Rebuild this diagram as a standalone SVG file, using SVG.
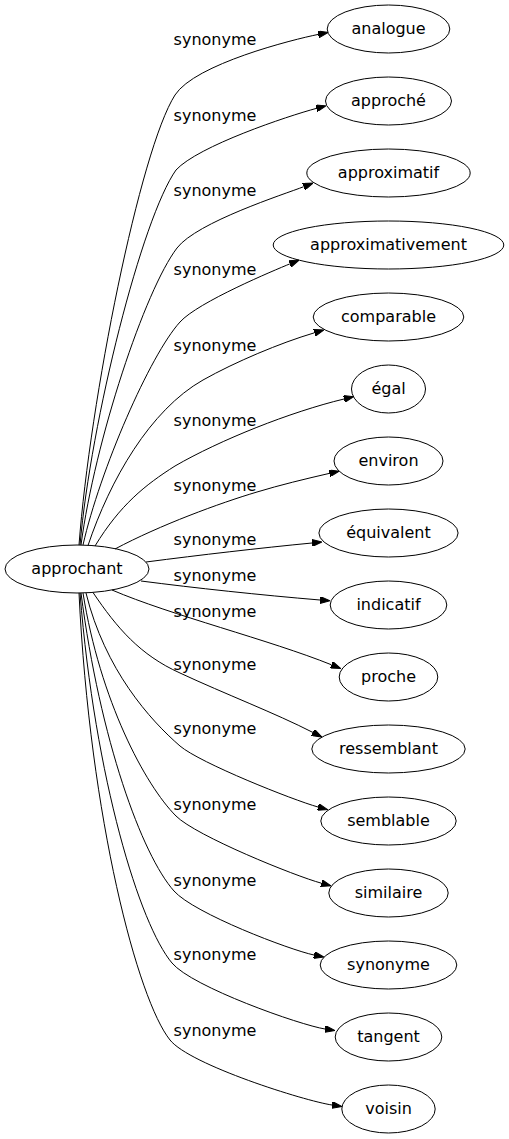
<svg xmlns="http://www.w3.org/2000/svg" width="509" height="1139" viewBox="0 0 509 1139">
<style>
.n ellipse{fill:none;stroke:#000;stroke-width:1}
text{font-family:"DejaVu Sans","Liberation Sans",sans-serif;font-size:16px;fill:#000;text-anchor:middle}
.e path{fill:none;stroke:#000;stroke-width:1;marker-end:url(#ah)}
</style>
<defs>
<marker id="ah" markerUnits="userSpaceOnUse" markerWidth="10" markerHeight="7" refX="0" refY="3.5" orient="auto">
<path d="M0,0 L10,3.5 L0,7 z" fill="#000" stroke="#000" stroke-width="1"/>
</marker>
</defs>
<rect width="509" height="1139" fill="#fff"/>
<g id="edges" class="e">
<path d="M79,545 C90,400 140,150 175,95 C195,64 293,39.5 318.3,34.4"/>
<path d="M80,545 C91,420 142,218 176,170 C198,146 288,116 316.3,108.4"/>
<path d="M81,545 C95,440 145,290 177,248 C197,222 285,194 303.7,186.7"/>
<path d="M83,545 C100,470 150,355 180,322 C198,302 275,270 289.8,263.9"/>
<path d="M88,545.5 C110,480 150,410 203,380 C235,362 280,343 314.4,332.8"/>
<path d="M95,546 C120,505 145,485 175,466 C220,440 290,412 344,399"/>
<path d="M115,549 C160,525 220,503 257,492 C280,485 305,479 329.3,473.4"/>
<path d="M146,562 C200,555 260,548 312,543"/>
<path d="M141,581 C195,588 260,595 320,600"/>
<path d="M112,590 C170,615 270,640 331.5,664.8"/>
<path d="M93,592.5 C117,628 140,655 180,673 C225,694 275,713 313,732.5"/>
<path d="M86,593 C105,670 150,720 180,746 C200,763 293,800 318,807"/>
<path d="M83,593 C100,700 145,785 176,816 C196,836 295,876 321.4,883.2"/>
<path d="M81,593 C100,740 142,855 174,891 C194,913.5 290,950 314,955"/>
<path d="M80,593 C95,780 140,925 172,963 C192,987 300,1025 325,1029"/>
<path d="M79,593 C90,820 138,1000 170,1040 C190,1065 305,1101 332,1105"/>
</g>
<g id="edge-labels">
<text x="215" y="45">synonyme</text>
<text x="215" y="121">synonyme</text>
<text x="215" y="196">synonyme</text>
<text x="215" y="275">synonyme</text>
<text x="215" y="351">synonyme</text>
<text x="215" y="426">synonyme</text>
<text x="215" y="491">synonyme</text>
<text x="215" y="545">synonyme</text>
<text x="215" y="581">synonyme</text>
<text x="215" y="617">synonyme</text>
<text x="215" y="670">synonyme</text>
<text x="215" y="734">synonyme</text>
<text x="215" y="810">synonyme</text>
<text x="215" y="886">synonyme</text>
<text x="215" y="960">synonyme</text>
<text x="215" y="1036">synonyme</text>
</g>
<g id="approchant" class="n"><ellipse cx="77" cy="569" rx="72" ry="24"/><text x="77" y="574">approchant</text></g>
<g id="analogue" class="n"><ellipse cx="388.5" cy="29" rx="61.3" ry="24"/><text x="388.5" y="34">analogue</text></g>
<g id="approche" class="n"><ellipse cx="388.5" cy="101" rx="63" ry="24"/><text x="388.5" y="106">approché</text></g>
<g id="approximatif" class="n"><ellipse cx="388.5" cy="173" rx="81.7" ry="24"/><text x="388.5" y="178">approximatif</text></g>
<g id="approximativement" class="n"><ellipse cx="388.5" cy="245" rx="115.3" ry="24"/><text x="388.5" y="250">approximativement</text></g>
<g id="comparable" class="n"><ellipse cx="388.5" cy="317" rx="75.3" ry="24"/><text x="388.5" y="322">comparable</text></g>
<g id="egal" class="n"><ellipse cx="388.5" cy="389" rx="37" ry="24"/><text x="388.5" y="394">égal</text></g>
<g id="environ" class="n"><ellipse cx="388.5" cy="461" rx="54.5" ry="24"/><text x="388.5" y="466">environ</text></g>
<g id="equivalent" class="n"><ellipse cx="388.5" cy="533" rx="69.6" ry="24"/><text x="388.5" y="538">équivalent</text></g>
<g id="indicatif" class="n"><ellipse cx="388.5" cy="605" rx="58.3" ry="24"/><text x="388.5" y="610">indicatif</text></g>
<g id="proche" class="n"><ellipse cx="388.5" cy="677" rx="49.3" ry="24"/><text x="388.5" y="682">proche</text></g>
<g id="ressemblant" class="n"><ellipse cx="388.5" cy="749" rx="76.7" ry="24"/><text x="388.5" y="754">ressemblant</text></g>
<g id="semblable" class="n"><ellipse cx="388.5" cy="821" rx="67.7" ry="24"/><text x="388.5" y="826">semblable</text></g>
<g id="similaire" class="n"><ellipse cx="388.5" cy="893" rx="59.7" ry="24"/><text x="388.5" y="898">similaire</text></g>
<g id="synonyme" class="n"><ellipse cx="388.5" cy="965" rx="68.3" ry="24"/><text x="388.5" y="970">synonyme</text></g>
<g id="tangent" class="n"><ellipse cx="388.5" cy="1037" rx="53.3" ry="24"/><text x="388.5" y="1042">tangent</text></g>
<g id="voisin" class="n"><ellipse cx="388.5" cy="1109" rx="46.7" ry="24"/><text x="388.5" y="1114">voisin</text></g>
</svg>
